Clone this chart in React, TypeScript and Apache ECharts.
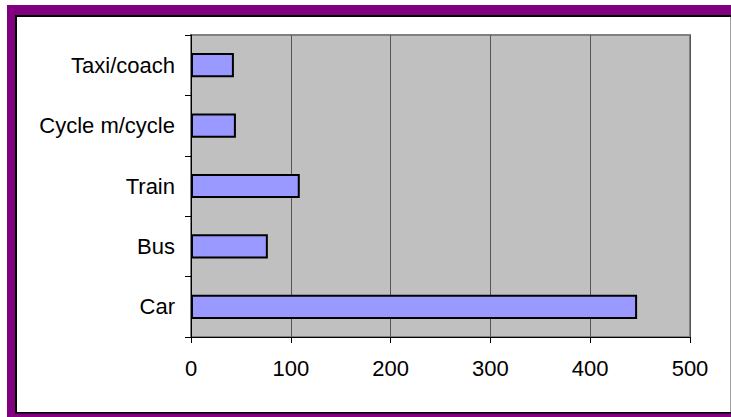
import React, { useEffect, useRef } from "react";
import * as echarts from "echarts";

// Modes of travel, bottom to top on the category axis
const categories = ["Car", "Bus", "Train", "Cycle m/cycle", "Taxi/coach"];
const journeys = [447, 77, 109, 45, 43];
const xTicks = [0, 100, 200, 300, 400, 500];

export default function App() {
  const ref = useRef<HTMLDivElement>(null);

  useEffect(() => {
    document.body.style.margin = "0";
    const chart = echarts.init(ref.current!, null, { renderer: "svg" });
    const font = "'Liberation Sans', Arial, sans-serif";
    chart.setOption({
      animation: false,
      backgroundColor: "#ffffff",
      graphic: [
        {
          type: "rect",
          z: -10,
          silent: true,
          shape: { x: 7, y: 5, width: 740, height: 420 },
          style: { fill: "#800080" },
        },
        {
          type: "rect",
          z: -9,
          silent: true,
          shape: { x: 15, y: 15, width: 740, height: 398.5 },
          style: { fill: "#000000" },
        },
        {
          type: "rect",
          z: -8,
          silent: true,
          shape: { x: 17, y: 17, width: 713, height: 395 },
          style: { fill: "#ffffff" },
        },
        {
          type: "line",
          z: -7,
          silent: true,
          shape: { x1: 730.5, y1: 17, x2: 730.5, y2: 412 },
          style: { stroke: "#a0a0a0", lineWidth: 1 },
        },
      ],
      grid: {
        left: 191,
        right: 41,
        top: 35,
        bottom: 80,
        show: true,
        backgroundColor: "#C0C0C0",
        borderColor: "#808080",
        borderWidth: 2,
      },
      xAxis: {
        type: "value",
        min: xTicks[0],
        max: xTicks[xTicks.length - 1],
        interval: 100,
        axisLine: { show: true, lineStyle: { color: "#000000", width: 1 } },
        axisTick: { show: true, length: 6, lineStyle: { color: "#000000" } },
        axisLabel: {
          margin: 20,
          color: "#000000",
          fontSize: 22,
          fontFamily: font,
        },
        splitLine: { show: true, lineStyle: { color: "#555555", width: 1 } },
      },
      yAxis: {
        type: "category",
        data: categories,
        axisLine: { show: true, lineStyle: { color: "#000000", width: 1 } },
        axisTick: { show: true, length: 6, lineStyle: { color: "#000000" } },
        axisLabel: {
          margin: 16,
          color: "#000000",
          fontSize: 22,
          fontFamily: font,
        },
      },
      series: [
        {
          type: "bar",
          data: journeys,
          barWidth: "40%",
          itemStyle: {
            color: "#9999FF",
            borderColor: "#000000",
            borderWidth: 2,
          },
        },
      ],
    });
    return () => chart.dispose();
  }, []);

  return (
    <div
      ref={ref}
      style={{ position: "absolute", left: 0, top: 0, width: 731, height: 417 }}
    />
  );
}
